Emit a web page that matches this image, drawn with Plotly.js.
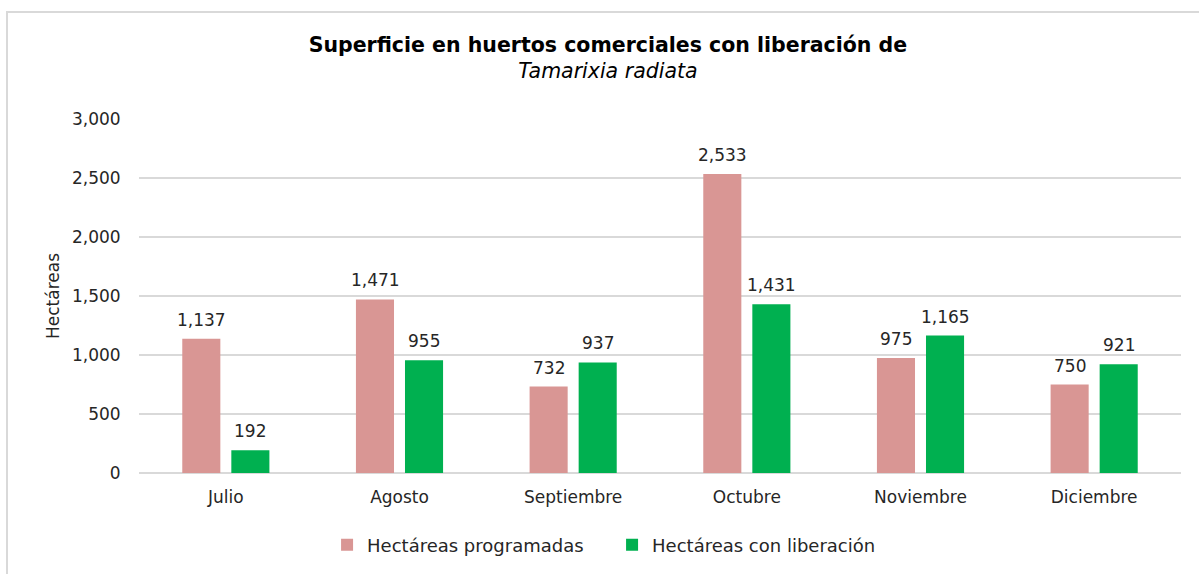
<!DOCTYPE html>
<html>
<head>
<meta charset="utf-8">
<script src="https://cdn.plot.ly/plotly-3.0.1.min.js"></script>
<style>
html,body{margin:0;padding:0;background:#fff;}
#wrap{position:absolute;left:0;top:0;width:1199px;height:574px;}
#frame{position:absolute;left:6px;top:11px;width:1193px;height:563px;border-left:2px solid #d9d9d9;border-top:2px solid #d9d9d9;box-sizing:border-box;pointer-events:none;z-index:5;}
#chart{position:absolute;left:0;top:0;width:1199px;height:574px;}
</style>
</head>
<body>
<div id="wrap"><div id="chart"></div><div id="frame"></div></div>
<script>
const months = ["Julio", "Agosto", "Septiembre", "Octubre", "Noviembre", "Diciembre"];
const programadas = [1137, 1471, 732, 2533, 975, 750];
const conLiberacion = [192, 955, 937, 1431, 1165, 921];
const seriesNames = ["Hectáreas programadas", "Hectáreas con liberación"];
const yTicks = [0, 500, 1000, 1500, 2000, 2500, 3000];

const FONT = "DejaVu Sans, sans-serif";
const TXT = "#262626";
const FS = 17;

const traces = [
  {type: "bar", name: seriesNames[0], x: months, y: programadas, marker: {color: "#D99694"}},
  {type: "bar", name: seriesNames[1], x: months, y: conLiberacion, marker: {color: "#00B050"}}
];

const annotations = [];
[programadas, conLiberacion].forEach((vals, ti) => {
  vals.forEach((v, i) => {
    annotations.push({
      x: months[i], y: v, xref: "x", yref: "y",
      text: v.toLocaleString("en-US"), showarrow: false,
      xanchor: "center", yanchor: "bottom", yshift: 7,
      xshift: ti === 0 ? -24.5 : 24.5,
      font: {family: FONT, size: FS, color: TXT}
    });
  });
});

const layout = {
  width: 1199, height: 574,
  margin: {l: 139, r: 18, t: 119, b: 100},
  paper_bgcolor: "#fff", plot_bgcolor: "#fff",
  font: {family: FONT, size: FS, color: TXT},
  separators: ".,",
  title: {
    text: "<b>Superficie en huertos comerciales con liberación de</b><br><i>Tamarixia radiata</i>",
    xref: "container", x: 0.507, xanchor: "center",
    yref: "container", y: 0.91, yanchor: "top",
    font: {family: FONT, size: 20.5, color: "#000"}
  },
  barmode: "group", bargap: 0.435, bargroupgap: 0.224,
  xaxis: {
    showgrid: false, zeroline: false, showline: false,
    tickfont: {family: FONT, size: FS, color: TXT},
    ticks: "outside", ticklen: 9, tickcolor: "rgba(0,0,0,0)"
  },
  yaxis: {
    range: [0, 3000], tickvals: yTicks, tickformat: ",d",
    showgrid: true, gridcolor: "#d9d9d9", gridwidth: 1.5,
    zeroline: true, zerolinecolor: "#d9d9d9", zerolinewidth: 1.5,
    showline: false,
    ticks: "outside", ticklen: 14, tickcolor: "rgba(0,0,0,0)",
    tickfont: {family: FONT, size: FS, color: TXT},
    title: {text: "Hectáreas", font: {family: FONT, size: FS, color: TXT}, standoff: 7}
  },
  showlegend: true,
  legend: {
    orientation: "h", x: 0.454, xanchor: "center", y: -0.2, yanchor: "middle",
    font: {family: FONT, size: 18, color: TXT},
    entrywidth: 240, entrywidthmode: "pixels",
    itemwidth: 30, traceorder: "normal"
  },
  annotations: annotations
};

Plotly.newPlot("chart", traces, layout, {displayModeBar: false, staticPlot: true});
</script>
</body>
</html>
